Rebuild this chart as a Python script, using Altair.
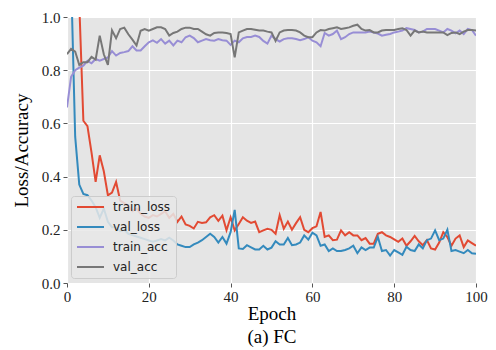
import altair as alt
import pandas as pd

epochs = list(range(101))

train_loss = [1.90, 1.45, 1.20, 1.05, 0.61, 0.59, 0.49, 0.38, 0.48, 0.42,
              0.33, 0.34, 0.38, 0.31, 0.30, 0.29, 0.27, 0.28, 0.26, 0.25,
              0.245, 0.255, 0.25, 0.26, 0.27, 0.245, 0.26, 0.23, 0.25, 0.22,
              0.215, 0.205, 0.23, 0.226, 0.228, 0.247, 0.255, 0.234, 0.253, 0.198,
              0.247, 0.198, 0.222, 0.247, 0.234, 0.226, 0.231, 0.191, 0.198, 0.204,
              0.20, 0.185, 0.255, 0.204, 0.231, 0.20, 0.225, 0.247, 0.20, 0.191,
              0.206, 0.213, 0.267, 0.173, 0.179, 0.161, 0.163, 0.198, 0.179, 0.191,
              0.179, 0.179, 0.161, 0.169, 0.148, 0.148, 0.185, 0.191, 0.179, 0.173,
              0.164, 0.155, 0.167, 0.14, 0.157, 0.177, 0.157, 0.142, 0.161, 0.13,
              0.126, 0.152, 0.191, 0.173, 0.14, 0.167, 0.179, 0.135, 0.16, 0.15,
              0.14]

val_loss = [1.80, 1.15, 0.55, 0.37, 0.335, 0.33, 0.31, 0.285, 0.245, 0.28,
            0.23, 0.21, 0.21, 0.195, 0.20, 0.185, 0.18, 0.175, 0.17, 0.165,
            0.16, 0.155, 0.16, 0.165, 0.16, 0.17, 0.16, 0.145, 0.14, 0.135,
            0.135, 0.145, 0.152, 0.161, 0.173, 0.185, 0.173, 0.152, 0.173, 0.148,
            0.191, 0.275, 0.13, 0.128, 0.142, 0.134, 0.126, 0.126, 0.14, 0.126,
            0.133, 0.157, 0.145, 0.145, 0.169, 0.142, 0.145, 0.152, 0.179, 0.163,
            0.189, 0.179, 0.14, 0.145, 0.12, 0.13, 0.12, 0.12, 0.124, 0.13,
            0.14, 0.112, 0.134, 0.124, 0.133, 0.133, 0.173, 0.12, 0.124, 0.103,
            0.124, 0.115, 0.106, 0.136, 0.124, 0.12, 0.145, 0.13, 0.161, 0.167,
            0.198, 0.161, 0.167, 0.20, 0.12, 0.124, 0.118, 0.112, 0.124, 0.112,
            0.11]

train_acc = [0.66, 0.775, 0.80, 0.81, 0.817, 0.835, 0.826, 0.842, 0.836, 0.842,
             0.848, 0.872, 0.855, 0.865, 0.868, 0.872, 0.89, 0.874, 0.874, 0.89,
             0.905, 0.912, 0.903, 0.917, 0.90, 0.911, 0.893, 0.911, 0.905, 0.924,
             0.93, 0.921, 0.905, 0.911, 0.917, 0.913, 0.911, 0.917, 0.913, 0.911,
             0.895, 0.911, 0.905, 0.92, 0.925, 0.925, 0.93, 0.925, 0.91, 0.90,
             0.93, 0.917, 0.908, 0.917, 0.92, 0.92, 0.917, 0.913, 0.917, 0.924,
             0.911, 0.905, 0.89, 0.94, 0.93, 0.936, 0.949, 0.917, 0.924, 0.936,
             0.942, 0.942, 0.942, 0.942, 0.945, 0.942, 0.938, 0.93, 0.933, 0.936,
             0.942, 0.945, 0.949, 0.958, 0.955, 0.951, 0.942, 0.945, 0.955, 0.955,
             0.955, 0.949, 0.942, 0.955, 0.949, 0.939, 0.949, 0.936, 0.955, 0.951,
             0.93]

val_acc = [0.86, 0.88, 0.87, 0.82, 0.83, 0.83, 0.85, 0.84, 0.93, 0.86,
           0.82, 0.95, 0.92, 0.955, 0.96, 0.935, 0.915, 0.893, 0.948, 0.955,
           0.949, 0.955, 0.961, 0.961, 0.955, 0.93, 0.94, 0.945, 0.955, 0.96,
           0.96, 0.955, 0.955, 0.945, 0.935, 0.93, 0.94, 0.942, 0.942, 0.94,
           0.936, 0.848, 0.942, 0.949, 0.955, 0.955, 0.952, 0.949, 0.949, 0.945,
           0.942, 0.91, 0.942, 0.949, 0.951, 0.951, 0.949, 0.942, 0.93, 0.924,
           0.924, 0.942, 0.951, 0.949, 0.955, 0.958, 0.961, 0.955, 0.958, 0.961,
           0.967, 0.971, 0.955, 0.949, 0.951, 0.942, 0.942, 0.949, 0.951, 0.951,
           0.951, 0.955, 0.958, 0.951, 0.93, 0.949, 0.942, 0.945, 0.942, 0.942,
           0.942, 0.942, 0.942, 0.932, 0.94, 0.942, 0.936, 0.945, 0.951, 0.951,
           0.949]

series_names = ["train_loss", "val_loss", "train_acc", "val_acc"]
series_colors = ["#E24A33", "#348ABD", "#988ED5", "#777777"]
x_ticks = [0, 20, 40, 60, 80, 100]
y_ticks = [0.0, 0.2, 0.4, 0.6, 0.8, 1.0]

rows = []
for name, vals in zip(series_names, [train_loss, val_loss, train_acc, val_acc]):
    for e, v in zip(epochs, vals):
        rows.append({"epoch": e, "value": v, "series": name})
df = pd.DataFrame(rows)

serif = "Liberation Serif"

chart = alt.Chart(df).mark_line(clip=True, strokeWidth=2).encode(
    x=alt.X("epoch:Q",
            scale=alt.Scale(domain=[0, 100], nice=False, zero=False),
            axis=alt.Axis(values=x_ticks, title=["Epoch", "(a) FC"],
                          titleLineHeight=23, titlePadding=0, labelPadding=2)),
    y=alt.Y("value:Q",
            scale=alt.Scale(domain=[0, 1], nice=False),
            axis=alt.Axis(values=y_ticks, format=".1f", title="Loss/Accuracy",
                          titlePadding=10, labelPadding=3)),
    color=alt.Color("series:N",
                    scale=alt.Scale(domain=series_names, range=series_colors),
                    legend=alt.Legend(title=None, orient="none", legendX=4, legendY=179,
                                      symbolType="M-1,0H4.4", symbolSize=100,
                                      symbolStrokeWidth=2, labelOffset=25,
                                      labelFont="DejaVu Sans", labelFontSize=12,
                                      labelColor="#222222", rowPadding=8,
                                      padding=5, fillColor="rgba(232,232,232,0.85)",
                                      strokeColor="#cccccc", cornerRadius=3)),
).properties(
    width=409, height=266,
    autosize=alt.AutoSizeParams(type="none"),
    padding={"left": 59, "top": 9, "right": 12, "bottom": 66},
).configure_view(
    fill="#E5E5E5", stroke=None
).configure_axis(
    domain=False, grid=True, gridColor="#FFFFFF", gridWidth=1.2,
    labelFlush=False, labelOverlap=False,
    tickColor="#555555", tickSize=4, tickWidth=1,
    labelFont=serif, labelFontSize=15, labelColor="#222222",
    titleFont=serif, titleFontSize=19, titleFontWeight="normal", titleColor="#000000",
)

chart.save("out.html", embed_options={"renderer": "svg", "actions": False})
